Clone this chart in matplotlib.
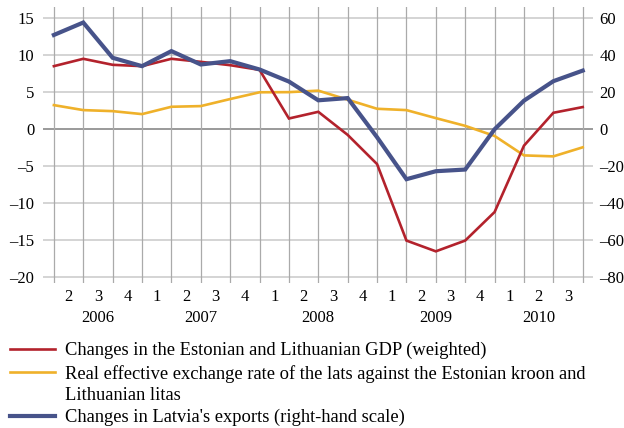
import matplotlib
matplotlib.use("Agg")
import matplotlib.pyplot as plt
from matplotlib.lines import Line2D
from matplotlib.ticker import FuncFormatter

plt.rcParams['font.family'] = ['Liberation Serif', 'DejaVu Serif']

# 2006 Q2 ... 2010 Q3 boundaries (19 points), quarter labels sit between them
QUARTERS = ["2", "3", "4", "1", "2", "3", "4", "1", "2", "3", "4", "1", "2", "3", "4", "1", "2", "3"]
YEARS = ["2006", "2007", "2008", "2009", "2010"]
QUARTERS_PER_YEAR = [3, 4, 4, 4, 3]

gdp = [8.45, 9.44, 8.63, 8.45, 9.44, 9.03, 8.58, 7.95, 1.4, 2.3, -0.81, -4.74,
       -15.04, -16.49, -15.04, -11.2, -2.26, 2.17, 2.94]
reer = [3.2, 2.53, 2.39, 1.99, 2.98, 3.07, 4.02, 4.93, 4.95, 5.15, 3.93, 2.71,
        2.53, 1.45, 0.41, -0.95, -3.57, -3.7, -2.48]
exports = [50.6, 57.3, 38.3, 33.8, 41.9, 34.7, 36.5, 32.0, 25.5, 15.4, 16.6, -4.5,
           -27.1, -22.8, -21.9, -0.2, 15.2, 25.7, 31.4]

LABELS = ["Changes in the Estonian and Lithuanian GDP (weighted)",
          "Real effective exchange rate of the lats against the Estonian kroon and\nLithuanian litas",
          "Changes in Latvia's exports (right-hand scale)"]

RED = "#b3222c"
YELLOW = "#efb12a"
BLUE = "#47538a"

fig = plt.figure(figsize=(6.24, 4.28), dpi=100)
ax = fig.add_axes([0.0694, 0.3380, 0.8814, 0.6445])
ax2 = ax.twinx()

ylo, yhi = -20.8, 16.35
ax.set_ylim(ylo, yhi)
ax2.set_ylim(ylo * 4, yhi * 4)
ax.set_xlim(-0.36, 18.36)

x = list(range(len(gdp)))

# grid
for v in range(-20, 16, 5):
    ax.axhline(v, color="#7f7f7f" if v == 0 else "#c9c9c9", lw=1.1, zorder=1)
for xi in x:
    ax.axvline(xi, color="#aaaaaa", lw=0.9, zorder=1)

ax.plot(x, reer, color=YELLOW, lw=1.9, zorder=3, solid_joinstyle="miter")
ax.plot(x, gdp, color=RED, lw=1.9, zorder=4, solid_joinstyle="miter")
ax2.plot(x, exports, color=BLUE, lw=3.0, zorder=5, solid_joinstyle="miter")

for a in (ax, ax2):
    for s in a.spines.values():
        s.set_visible(False)

dash = FuncFormatter(lambda v, pos: ("%d" % v).replace("-", "\u2013"))
ax.set_yticks(range(-20, 16, 5))
ax2.set_yticks(range(-80, 61, 20))
ax.yaxis.set_major_formatter(dash)
ax2.yaxis.set_major_formatter(dash)
ax.tick_params(axis="y", length=0, pad=6.5, labelsize=12)
ax2.tick_params(axis="y", length=0, pad=4.5, labelsize=12)

ax.set_xticks([i + 0.5 for i in range(len(QUARTERS))], QUARTERS)
ax.tick_params(axis="x", length=0, pad=4, labelsize=12)

# year labels centred under their quarters
start = 0
for year, n in zip(YEARS, QUARTERS_PER_YEAR):
    centre = start + n / 2
    ax.text(centre, -0.097, year, transform=ax.get_xaxis_transform(),
            ha="center", va="top", fontsize=12)
    start += n

# legend
colors = [RED, YELLOW, BLUE]
widths = [1.9, 1.9, 3.0]
ys = [349, 372, 416]
for lab, c, w, yp in zip(LABELS, colors, widths, ys):
    yf = 1 - yp / 428
    fig.add_artist(Line2D([10 / 624, 55 / 624], [yf, yf], color=c, lw=w))
    fig.text(65 / 624, yf + 7 / 428, lab, ha="left", va="top", fontsize=13.3,
             linespacing=1.32)

fig.savefig("out.png", dpi=100)
